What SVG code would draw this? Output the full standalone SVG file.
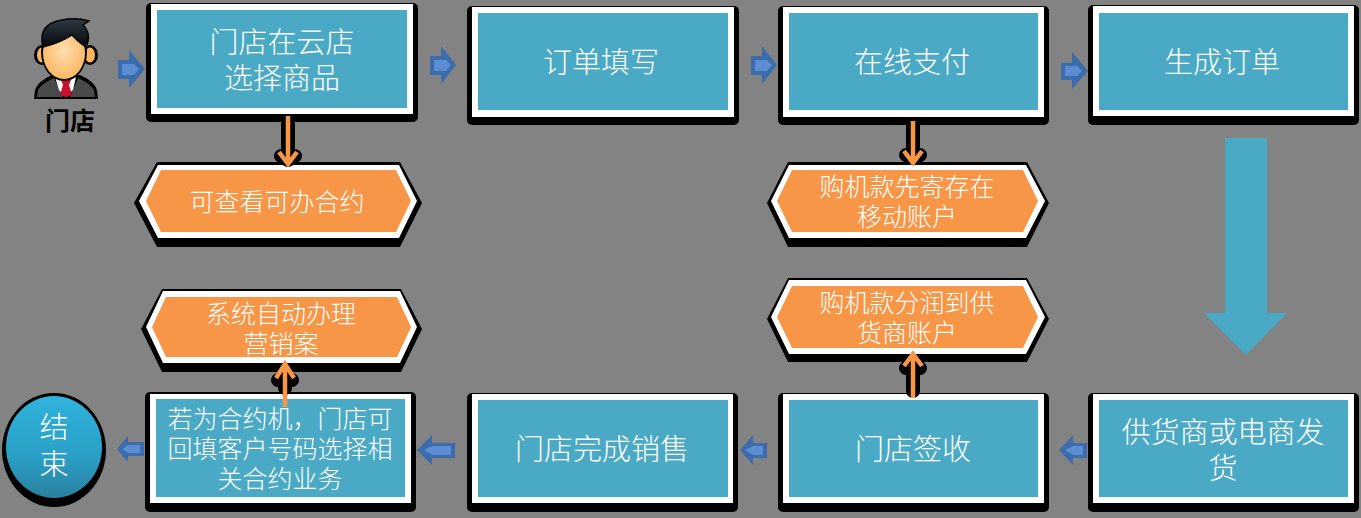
<svg xmlns="http://www.w3.org/2000/svg" width="1361" height="518" viewBox="0 0 1361 518">
<style>
text{font-family:"Noto Sans CJK SC","Liberation Sans",sans-serif;font-weight:300;fill:#fff;text-anchor:middle}
.bl{fill:#000}.wh{fill:#fff}.te{fill:#4aa9c5}.or{fill:#f79646}
.t29{font-size:29px}.t25{font-size:25px}
.sh{fill:#3c6cab}.si{fill:#5a8dd2}
.ha{fill:none;stroke:#000;stroke-width:14;stroke-linejoin:round;stroke-linecap:round}
.ar{fill:none;stroke:#f79646;stroke-width:4.5}
</style>
<defs>
<linearGradient id="cg" x1="0" y1="0" x2="0" y2="1"><stop offset="0" stop-color="#2fb3dc"/><stop offset="0.6" stop-color="#2a9fc6"/><stop offset="1" stop-color="#2b7f9e"/></linearGradient>
<radialGradient id="fg" cx="0.5" cy="0.45" r="0.6"><stop offset="0" stop-color="#ffe0b0"/><stop offset="1" stop-color="#fbb45c"/></radialGradient>
<linearGradient id="hg" x1="0" y1="0" x2="0" y2="1"><stop offset="0" stop-color="#2f3a44"/><stop offset="1" stop-color="#05070a"/></linearGradient>
</defs>
<rect width="1361" height="518" fill="#838383"/>
<g id="person">
<path class="bl" d="M34 99L35 90Q38 81 52 75L80 75Q94 81 97 90L98 99Z"/>
<path fill="#4a4a4a" d="M37 97L38 90Q41 84 54 78L63 97ZM70 97L78 78Q91 84 94 90L95 97Z"/>
<path class="wh" d="M55 77L66 82L76 77L73 90L66 97L59 90Z"/>
<path fill="#c8102e" d="M61 80L71 80L69 85L72 95L66 97L60 95L63 85Z"/>
<ellipse cx="42" cy="55" rx="8" ry="10" fill="#000"/><ellipse cx="90" cy="55" rx="8" ry="10" fill="#000"/>
<ellipse cx="42" cy="55" rx="5" ry="7.5" fill="#fbb45c"/><ellipse cx="90" cy="55" rx="5" ry="7.5" fill="#fbb45c"/>
<ellipse cx="64" cy="52" rx="23" ry="29" fill="#000"/>
<ellipse cx="64" cy="53" rx="21" ry="26" fill="url(#fg)"/>
<path fill="url(#hg)" stroke="#000" stroke-width="1.5" d="M43 47Q37 24 62 20Q76 17 89 21L83 25Q92 34 86 47Q78 42 72 35Q60 43 43 47Z"/>
</g>
<text id="person-label" x="70" y="130" font-size="25" style="font-weight:700;fill:#000">门店</text>

<g id="n1"><rect class="bl" x="146" y="3" width="272" height="119" rx="5"/><rect class="wh" x="151" y="4" width="262" height="110"/><rect class="te" x="157" y="10" width="250" height="98"/><text class="t29" x="282" y="53">门店在云店</text><text class="t29" x="282" y="89">选择商品</text></g>
<g id="n2"><rect class="bl" x="467" y="6" width="272" height="119" rx="5"/><rect class="wh" x="472" y="7" width="262" height="110"/><rect class="te" x="478" y="13" width="250" height="97"/><text class="t29" x="601" y="73">订单填写</text></g>
<g id="n3"><rect class="bl" x="778" y="6" width="271" height="119" rx="5"/><rect class="wh" x="783" y="7" width="261" height="110"/><rect class="te" x="789" y="13" width="249" height="97"/><text class="t29" x="912" y="73">在线支付</text></g>
<g id="n4"><rect class="bl" x="1088" y="5" width="271" height="120" rx="5"/><rect class="wh" x="1093" y="6" width="261" height="110"/><rect class="te" x="1099" y="13" width="249" height="97"/><text class="t29" x="1222" y="73">生成订单</text></g>

<g id="n5"><rect class="bl" x="1088" y="393" width="271" height="119" rx="5"/><rect class="wh" x="1093" y="394" width="261" height="109"/><rect class="te" x="1099" y="400" width="249" height="97"/><text class="t29" x="1223" y="443">供货商或电商发</text><text class="t29" x="1223" y="479">货</text></g>
<g id="n6"><rect class="bl" x="778" y="393" width="271" height="119" rx="5"/><rect class="wh" x="783" y="394" width="261" height="109"/><rect class="te" x="789" y="400" width="249" height="97"/><text class="t29" x="913" y="460">门店签收</text></g>
<g id="n7"><rect class="bl" x="467" y="393" width="271" height="119" rx="5"/><rect class="wh" x="472" y="394" width="261" height="109"/><rect class="te" x="478" y="400" width="250" height="97"/><text class="t29" x="602" y="460">门店完成销售</text></g>
<g id="n8"><rect class="bl" x="145" y="392" width="271" height="120" rx="5"/><rect class="wh" x="150" y="394" width="261" height="109"/><rect class="te" x="156" y="399" width="249" height="98"/><text class="t25" x="280" y="428">若为合约机，门店可</text><text class="t25" x="280" y="458">回填客户号码选择相</text><text class="t25" x="280" y="488">关合约业务</text></g>

<g id="h1"><polygon class="bl" points="157,162 400,162 422,203 400,247 157,247 134,203"/><polygon class="wh" points="158,165 399,165 417,201 399,238 158,238 139,201"/><polygon class="or" points="161,170 396,170 411,201 396,232 161,232 146,201"/><text class="t25" x="277" y="211">可查看可办合约</text></g>
<g id="h2"><polygon class="bl" points="788,162 1027,162 1049,203 1027,247 788,247 767,203"/><polygon class="wh" points="789,165 1026,165 1045,201 1026,238 789,238 771,201"/><polygon class="or" points="792,170 1023,170 1038,201 1023,232 792,232 777,201"/><text class="t25" x="907" y="196">购机款先寄存在</text><text class="t25" x="907" y="226">移动账户</text></g>
<g id="h3"><polygon class="bl" points="788,278 1027,278 1049,319 1027,362 788,362 767,319"/><polygon class="wh" points="789,280 1026,280 1045,317 1026,354 789,354 771,317"/><polygon class="or" points="792,286 1023,286 1038,317 1023,348 792,348 777,317"/><text class="t25" x="907" y="312">购机款分润到供</text><text class="t25" x="907" y="342">货商账户</text></g>
<g id="h4"><polygon class="bl" points="162,289 401,289 422,329 401,372 162,372 141,329"/><polygon class="wh" points="163,291 400,291 417,327 400,363 163,363 146,327"/><polygon class="or" points="166,297 397,297 411,327 397,357 166,357 152,327"/><text class="t25" x="281" y="323">系统自动办理</text><text class="t25" x="281" y="353">营销案</text></g>

<g id="end"><ellipse cx="54" cy="450" rx="52" ry="57" class="bl"/><ellipse cx="54" cy="447" rx="48" ry="51" fill="url(#cg)"/><text class="t29" x="54" y="438">结</text><text class="t29" x="54" y="475">束</text></g>

<g id="connectors">
<polygon class="te" points="1225,138 1267,138 1267,313 1287,313 1246,355 1204,313 1225,313"/>
<g id="blue-arrows">
<polygon class="sh" points="118,60 129,60 129,50 145,69 129,88 129,79 118,79"/>
<polygon class="si" points="122,64 134,64 139,69 134,75 122,75"/>
<polygon class="sh" points="430,56 441,56 441,46 456,65 441,84 441,75 430,75"/>
<polygon class="si" points="434,60 446,60 451,65 446,71 434,71"/>
<polygon class="sh" points="751,56 762,56 762,46 777,65 762,84 762,75 751,75"/>
<polygon class="si" points="755,60 767,60 772,65 767,71 755,71"/>
<polygon class="sh" points="1061,63 1072,63 1072,52 1088,71 1072,89 1072,80 1061,80"/>
<polygon class="si" points="1065,66 1077,66 1082,71 1077,76 1065,76"/>
<polygon class="sh" points="1087,443 1073,443 1073,435 1059,450 1073,465 1073,458 1087,458"/>
<polygon class="si" points="1083,446 1073,446 1065,450 1073,455 1083,455"/>
<polygon class="sh" points="767,443 753,443 753,435 740,450 753,465 753,458 767,458"/>
<polygon class="si" points="763,446 753,446 745,450 753,455 763,455"/>
<polygon class="sh" points="455,443 432,443 432,435 417,450 432,465 432,458 455,458"/>
<polygon class="si" points="451,446 432,446 424,450 432,455 451,455"/>
<polygon class="sh" points="144,442 128,442 128,436 117,449 128,462 128,456 144,456"/>
<polygon class="si" points="140,445 128,445 122,449 128,453 140,453"/>
</g>
<path class="ha" d="M288 124V156M281 156L288 160L295 156"/>
<path class="ar" d="M288 116V164M279 152L288 164L297 152"/>
<path class="ha" d="M913 125V155M906 155L913 158L920 155"/>
<path class="ar" d="M913 121V163M904 151L913 163L922 151"/>
<path class="ha" d="M913 391V368M906 368L913 364L920 368"/>
<path class="ar" d="M913 398V354M904 366L913 354L922 366"/>
<path class="ha" d="M285 388V380M278 380L285 376L292 380"/>
<path class="ar" d="M285 407V364M276 378L285 364L294 378"/>
</g>
</svg>
